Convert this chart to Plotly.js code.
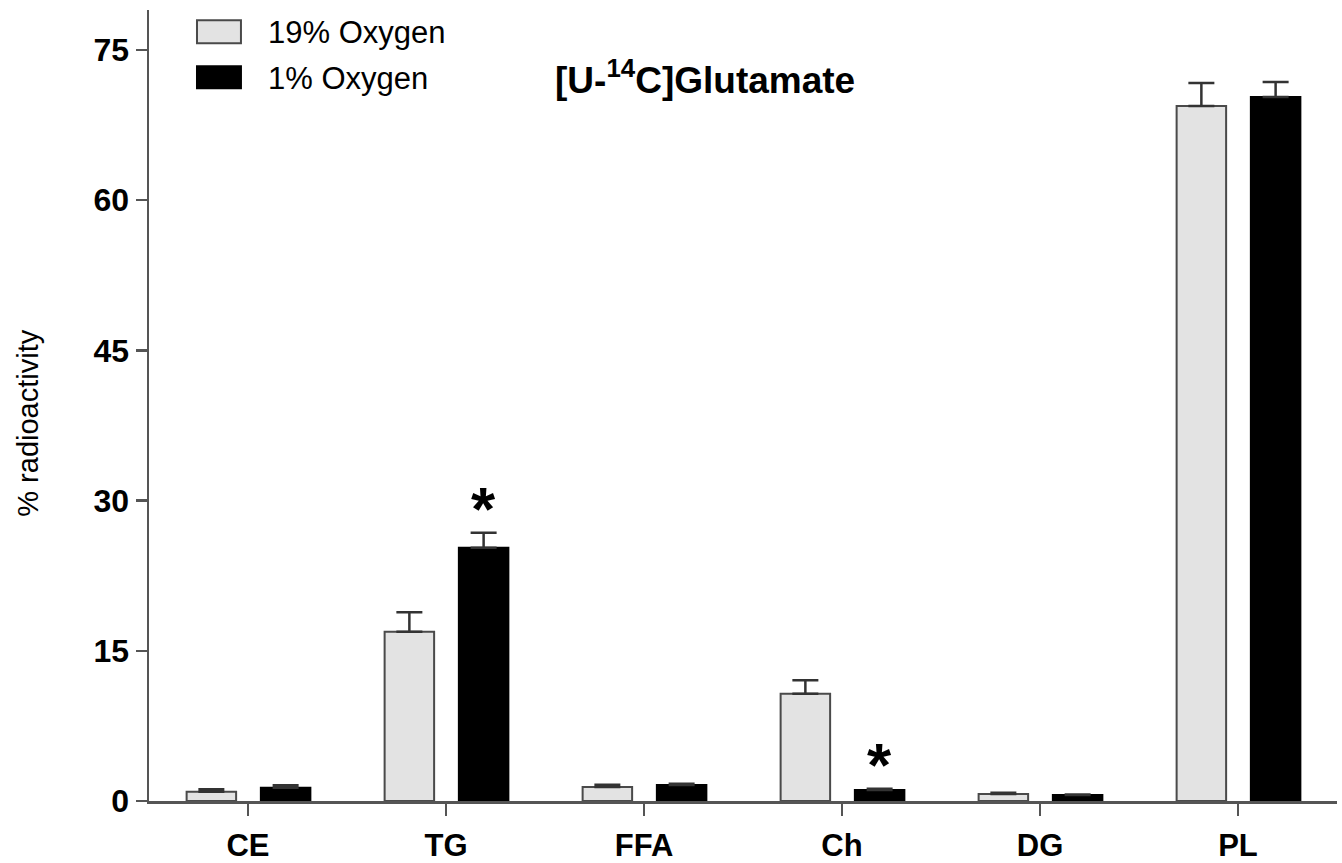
<!DOCTYPE html>
<html>
<head>
<meta charset="utf-8">
<script src="https://cdn.plot.ly/plotly-3.0.1.min.js"></script>
<style>html,body{margin:0;padding:0;background:#fff;}#chart{width:1342px;height:863px;}</style>
</head>
<body>
<div id="chart"></div>
<script>
const categories = ['CE', 'TG', 'FFA', 'Ch', 'DG', 'PL'];
const seriesNames = ['19% Oxygen', '1% Oxygen'];
const normoxiaValues = [0.93, 16.9, 1.4, 10.7, 0.7, 69.4];
const normoxiaErrors = [0.24, 1.95, 0.22, 1.37, 0.13, 2.3];
const hypoxiaValues = [1.33, 25.3, 1.6, 1.1, 0.6, 70.3];
const hypoxiaErrors = [0.24, 1.5, 0.12, 0.13, 0.05, 1.5];
const significant = ['TG', 'Ch'];
const yTicks = [0, 15, 30, 45, 60, 75];
const chartTitle = '[U-<sup>14</sup>C]Glutamate';
const yTitle = '% radioactivity';

const FONT = 'Liberation Sans, Arial, Helvetica, sans-serif';

const traces = [
  {
    type: 'bar', name: seriesNames[0], x: categories, y: normoxiaValues,
    offset: -0.31, width: 0.25,
    marker: {color: '#e3e3e3', line: {color: '#4a4a4a', width: 2}},
    error_y: {type: 'data', symmetric: false, array: normoxiaErrors,
      arrayminus: normoxiaErrors.map(() => 0), color: '#333333', thickness: 2.5, width: 13},
    showlegend: false
  },
  {
    type: 'bar', name: seriesNames[1], x: categories, y: hypoxiaValues,
    offset: 0.065, width: 0.25,
    marker: {color: '#000000', line: {color: '#000000', width: 2}},
    error_y: {type: 'data', symmetric: false, array: hypoxiaErrors,
      arrayminus: hypoxiaErrors.map(() => 0), color: '#333333', thickness: 2.5, width: 13},
    showlegend: false
  }
];

const annotations = [];
significant.forEach(c => {
  const i = categories.indexOf(c);
  annotations.push({
    x: c, y: hypoxiaValues[i] + hypoxiaErrors[i], xref: 'x', yref: 'y',
    xshift: 37, yshift: -12, yanchor: 'bottom', xanchor: 'center',
    text: '<b>*</b>', showarrow: false,
    font: {family: FONT, size: 62, color: '#000'}
  });
});
annotations.push({
  xref: 'paper', yref: 'paper', x: 0.4676, y: 0.915, xanchor: 'center', yanchor: 'middle',
  text: '<b>' + chartTitle + '</b>', showarrow: false,
  font: {family: FONT, size: 37, color: '#000'}
});
annotations.push({
  xref: 'paper', yref: 'paper', x: -0.102, y: 0.478, xanchor: 'center', yanchor: 'middle',
  textangle: -90, text: yTitle, showarrow: false,
  font: {family: FONT, size: 29, color: '#000'}
});
// legend
const legendRows = [{y0: 0.958, y1: 0.987, yt: 0.971, fill: '#e3e3e3', line: '#4a4a4a'},
                    {y0: 0.901, y1: 0.929, yt: 0.913, fill: '#000000', line: '#000000'}];
const shapes = [];
legendRows.forEach((r, k) => {
  shapes.push({type: 'rect', xref: 'paper', yref: 'paper', x0: 0.0404, x1: 0.0774, y0: r.y0, y1: r.y1,
    fillcolor: r.fill, line: {color: r.line, width: 2}});
  annotations.push({xref: 'paper', yref: 'paper', x: 0.0985, y: r.yt, xanchor: 'left', yanchor: 'middle',
    text: seriesNames[k], showarrow: false, font: {family: FONT, size: 31, color: '#000'}});
});

const layout = {
  width: 1342, height: 863,
  margin: {l: 149, r: 5, t: 10, b: 62, pad: 0},
  paper_bgcolor: '#fff', plot_bgcolor: '#fff',
  barmode: 'overlay',
  showlegend: false,
  xaxis: {
    type: 'category', categoryarray: categories, range: [-0.5, 5.5],
    showline: true, linecolor: '#555555', linewidth: 2.5,
    ticks: 'outside', ticklen: 12, tickwidth: 2.5, tickcolor: '#555555',
    showgrid: false, zeroline: false, ticklabelstandoff: 3,
    tickfont: {family: FONT, size: 31, color: '#000', weight: 'bold'},
    automargin: false
  },
  yaxis: {
    range: [0, 79], tickvals: yTicks, ticktext: yTicks.map(String),
    showline: true, linecolor: '#555555', linewidth: 2.5,
    ticks: 'outside', ticklen: 11, tickwidth: 2.5, tickcolor: '#555555',
    showgrid: false, zeroline: false,
    tickfont: {family: FONT, size: 32, color: '#000', weight: 'bold'},
    automargin: false
  },
  annotations: annotations,
  shapes: shapes
};

Plotly.newPlot('chart', traces, layout, {displayModeBar: false, staticPlot: true});
</script>
</body>
</html>
